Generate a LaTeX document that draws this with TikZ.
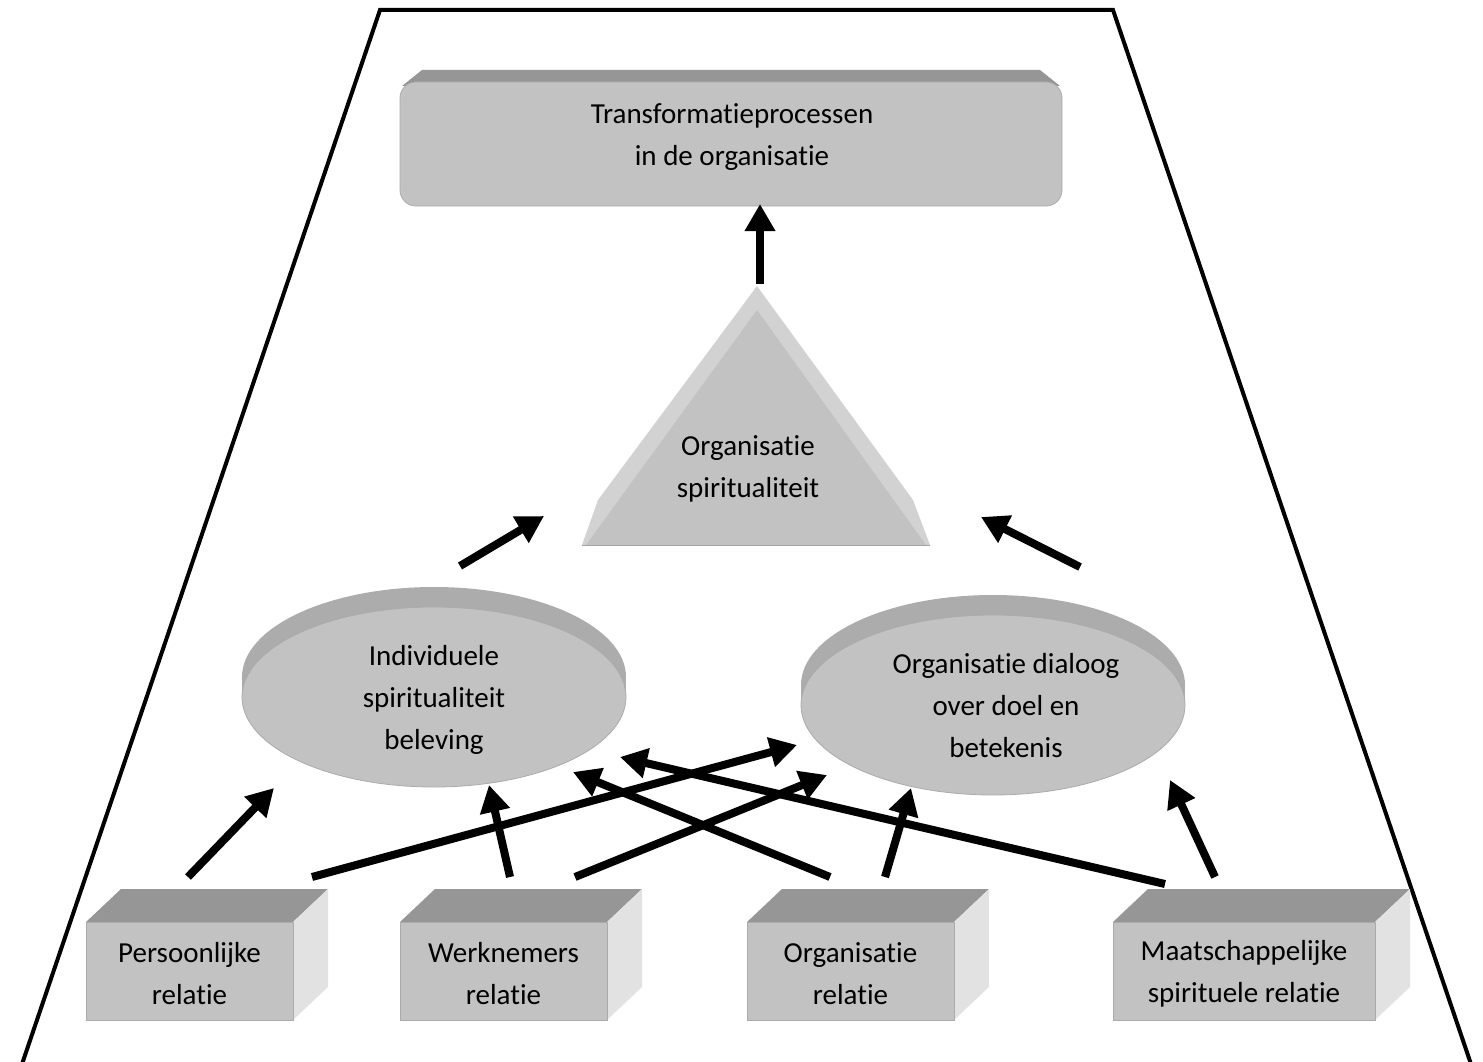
\documentclass[tikz,border=0pt]{standalone}
\usepackage{fontspec}
\setmainfont[RawFeature=-liga]{Carlito}
\usetikzlibrary{arrows.meta}
\definecolor{face}{RGB}{194,194,194}
\definecolor{topgray}{RGB}{150,150,150}
\definecolor{sidegray}{RGB}{226,226,226}
\definecolor{bevel}{RGB}{210,210,210}
\definecolor{rim}{RGB}{172,172,172}
\begin{document}
\begin{tikzpicture}[x=1pt,y=-1pt,
  lbl/.style={font=\fontsize{29}{42}\selectfont, align=center, text=black, inner sep=0pt},
  arr/.style={line width=8pt, -{Triangle[length=27pt,width=29pt]}},
  frame/.style={line width=4pt, line join=miter},
  facefill/.style={fill=face, draw=face!88!black, line width=0.8pt},
]
\useasboundingbox (0,0) rectangle (1483,1062);
% trapezoid frame
\draw[frame] (20,1070) -- (380,10) -- (1113,10) -- (1473,1070);

% top box
\fill[topgray] (402,86) -- (422,70) -- (1040,70) -- (1060,86) -- cycle;
\filldraw[facefill, rounded corners=16pt] (400,82) rectangle (1062,206);
\node[lbl] (top) at (732,137) {Transformatieprocessen\\in de organisatie};

% triangle
\fill[bevel] (582,545) -- (598,500) -- (757,286) -- (913,500) -- (930,545) -- cycle;
\fill[face] (586,545) -- (757,310) -- (926,545) -- cycle;
\draw[face!85!black, line width=0.8pt] (582,545) -- (930,545);
\node[lbl] (tri) at (748,469) {Organisatie\\spiritualiteit};

% ellipses (disks)
\foreach \cx/\cy in {434/697, 993/705}{
  \fill[rim] (\cx,\cy-20) ellipse [x radius=192, y radius=90];
  \fill[rim] (\cx-192,\cy-20) rectangle (\cx+192,\cy);
  \filldraw[facefill] (\cx,\cy) ellipse [x radius=192, y radius=90];
}
\node[lbl] (ell1) at (434,700) {Individuele\\spiritualiteit\\beleving};
\node[lbl] (ell2) at (1006,706) {Organisatie dialoog\\over doel en\\betekenis};

% cubes
\foreach \x/\w in {86/207, 400/207, 747/207, 1113/262}{
  \fill[topgray] (\x,922) -- (\x+35,889) -- (\x+\w+35,889) -- (\x+\w,922) -- cycle;
  \fill[sidegray] (\x+\w,922) -- (\x+\w+35,889) -- (\x+\w+35,987) -- (\x+\w,1020) -- cycle;
  \filldraw[facefill] (\x,922) rectangle (\x+\w,1020);
}
\node[lbl] (c1) at (189.5,974) {Persoonlijke\\relatie};
\node[lbl] (c2) at (503.5,974) {Werknemers\\relatie};
\node[lbl] (c3) at (850.5,974) {Organisatie\\relatie};
\node[lbl] (c4) at (1244,974) {Maatschappelijke\\spirituele relatie};

% arrow end points
\coordinate (a1s) at (188,877);  \coordinate (a1e) at (274,788);
\coordinate (a2s) at (312,877);  \coordinate (a2e) at (797,745);
\coordinate (a3s) at (510,877);  \coordinate (a3e) at (489,785);
\coordinate (a4s) at (575,877);  \coordinate (a4e) at (827,775);
\coordinate (a5s) at (830,877);  \coordinate (a5e) at (573,772);
\coordinate (a6s) at (885,877);  \coordinate (a6e) at (911,788);
\coordinate (a7s) at (1165,884); \coordinate (a7e) at (620,757);
\coordinate (a8s) at (1215,877); \coordinate (a8e) at (1170,780);
\coordinate (a9s) at (460,566);  \coordinate (a9e) at (544,516);
\coordinate (a10s) at (1080,567); \coordinate (a10e) at (981,517);
\coordinate (a11s) at (760,284); \coordinate (a11e) at (760,204);

\foreach \i in {1,...,11}{
  \draw[arr] (a\i s) -- (a\i e);
}
\end{tikzpicture}
\end{document}
